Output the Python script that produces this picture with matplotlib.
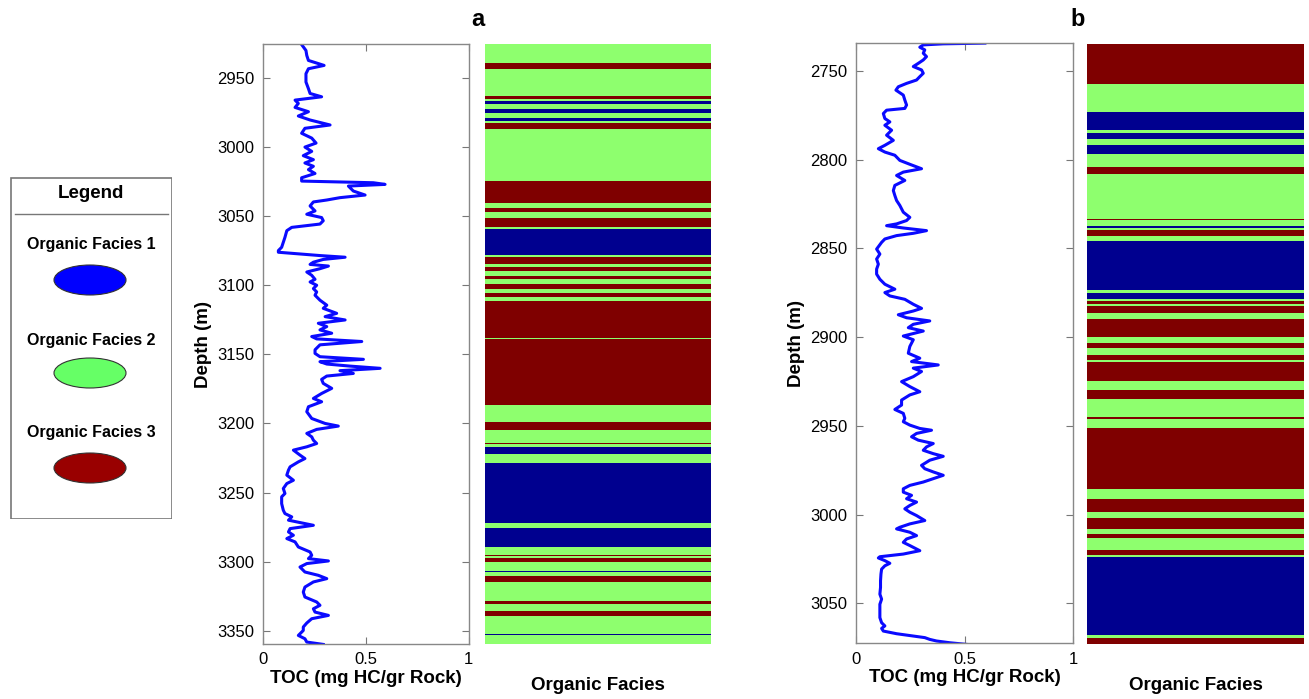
import numpy as np
import matplotlib
matplotlib.use("Agg")
import matplotlib.pyplot as plt
from matplotlib.patches import Ellipse, Rectangle

plt.rcParams['font.family'] = ['Liberation Sans', 'DejaVu Sans']

# ---- well a : TOC log ----
depth_a = [2925.8, 2930.1, 2933.7, 2937.3, 2940.9, 2943.3, 2946.9, 2952.9, 2957.7, 2961.2,
           2963.6, 2966.0, 2968.4, 2971.3, 2974.4, 2977.5, 2980.4, 2984.0, 2986.4, 2990.0,
           2993.5, 2997.1, 3000.0, 3003.1, 3006.2, 3009.1, 3011.5, 3013.9, 3016.3, 3019.1,
           3022.2, 3024.6, 3025.8, 3027.0, 3028.2, 3031.8, 3034.7, 3036.6, 3038.3, 3039.7,
           3042.6, 3046.2, 3048.6, 3051.0, 3053.3, 3055.7, 3058.1, 3060.5, 3065.3, 3068.9,
           3072.5, 3074.9, 3076.1, 3078.5, 3079.7, 3081.3, 3083.3, 3084.9, 3086.1, 3088.0,
           3090.4, 3092.8, 3095.7, 3097.6, 3100.0, 3102.4, 3104.8, 3107.2, 3110.8, 3114.4,
           3116.7, 3120.3, 3122.7, 3125.1, 3127.5, 3129.9, 3132.3, 3134.7, 3137.1, 3138.8,
           3140.7, 3143.1, 3146.7, 3149.3, 3151.7, 3153.6, 3155.3, 3157.0, 3158.5, 3160.1,
           3161.8, 3163.8, 3165.7, 3168.1, 3171.0, 3174.6, 3178.3, 3181.9, 3184.3, 3187.9,
           3191.5, 3196.4, 3200.0, 3201.9, 3204.3, 3207.2, 3209.7, 3212.1, 3214.5, 3216.9,
           3219.3, 3222.9, 3225.4, 3227.8, 3231.4, 3233.8, 3237.4, 3241.1, 3243.5, 3247.1,
           3250.7, 3253.1, 3258.0, 3262.8, 3265.2, 3267.6, 3270.0, 3273.7, 3276.1, 3278.5,
           3280.9, 3283.3, 3285.7, 3289.4, 3293.0, 3295.4, 3297.8, 3299.5, 3301.4, 3303.9,
           3307.5, 3309.9, 3312.3, 3314.7, 3318.4, 3322.0, 3325.6, 3329.2, 3331.6, 3334.1,
           3336.5, 3338.9, 3341.3, 3344.4, 3347.3, 3349.8, 3353.4, 3355.8, 3358.2, 3359.9]
toc_a = [0.189, 0.210, 0.214, 0.222, 0.298, 0.222, 0.210, 0.210, 0.222, 0.230,
         0.286, 0.157, 0.173, 0.157, 0.222, 0.173, 0.230, 0.327, 0.205, 0.189,
         0.238, 0.259, 0.205, 0.238, 0.197, 0.246, 0.205, 0.246, 0.222, 0.254,
         0.189, 0.189, 0.537, 0.594, 0.416, 0.440, 0.497, 0.375, 0.311, 0.246,
         0.230, 0.254, 0.214, 0.286, 0.294, 0.278, 0.141, 0.117, 0.108, 0.100,
         0.092, 0.076, 0.076, 0.278, 0.400, 0.294, 0.246, 0.230, 0.319, 0.278,
         0.214, 0.238, 0.254, 0.230, 0.262, 0.246, 0.262, 0.254, 0.278, 0.311,
         0.294, 0.359, 0.303, 0.400, 0.270, 0.311, 0.278, 0.335, 0.238, 0.262,
         0.481, 0.278, 0.254, 0.254, 0.278, 0.489, 0.278, 0.311, 0.424, 0.570,
         0.375, 0.440, 0.311, 0.286, 0.294, 0.335, 0.286, 0.246, 0.286, 0.222,
         0.214, 0.238, 0.303, 0.367, 0.262, 0.214, 0.238, 0.246, 0.262, 0.214,
         0.149, 0.181, 0.205, 0.173, 0.133, 0.125, 0.117, 0.149, 0.117, 0.100,
         0.108, 0.092, 0.092, 0.100, 0.108, 0.141, 0.125, 0.246, 0.133, 0.125,
         0.149, 0.117, 0.157, 0.173, 0.230, 0.238, 0.222, 0.319, 0.214, 0.181,
         0.205, 0.270, 0.311, 0.246, 0.205, 0.197, 0.205, 0.262, 0.278, 0.246,
         0.254, 0.319, 0.238, 0.214, 0.197, 0.197, 0.173, 0.205, 0.214, 0.294]

# ---- well a : facies intervals (top depth, facies code) ----
facies_top_a = [2925.4, 2938.9, 2943.7, 2963.2, 2965.4, 2967.0, 2969.0, 2972.1, 2975.0, 2979.3,
                2981.0, 2982.5, 2986.8, 3024.5, 3040.6, 3044.2, 3046.7, 3051.0, 3057.9, 3059.2,
                3078.4, 3079.6, 3084.6, 3086.8, 3090.0, 3093.6, 3095.5, 3099.1, 3102.7, 3105.6,
                3108.7, 3111.1, 3138.0, 3138.7, 3150.1, 3150.7, 3186.7, 3198.6, 3204.7, 3214.3,
                3215.2, 3216.7, 3222.2, 3228.9, 3272.2, 3275.8, 3289.5, 3295.1, 3295.8, 3297.3,
                3300.4, 3306.6, 3307.4, 3310.5, 3314.8, 3328.8, 3331.0, 3336.0, 3339.6, 3352.3,
                3353.3]
facies_a = [2, 3, 2, 3, 2, 1, 2, 1, 2, 1,
            2, 3, 2, 3, 2, 3, 2, 3, 2, 1,
            2, 3, 2, 3, 2, 3, 2, 3, 2, 3,
            2, 3, 2, 3, 2, 3, 2, 3, 2, 3,
            2, 1, 2, 1, 2, 1, 2, 3, 2, 3,
            2, 1, 2, 3, 2, 3, 2, 3, 2, 1,
            2]
facies_base_a = 3359.6

# ---- well b : TOC log ----
depth_b = [2734.3, 2734.7, 2735.3, 2736.6, 2738.1, 2740.0, 2741.9, 2743.8, 2745.7, 2747.5,
           2749.4, 2751.3, 2753.2, 2755.1, 2757.0, 2758.9, 2760.8, 2763.6, 2766.4, 2769.2,
           2771.1, 2772.1, 2774.0, 2776.8, 2778.7, 2780.6, 2783.4, 2786.2, 2789.1, 2791.9,
           2793.8, 2795.7, 2797.5, 2800.4, 2802.6, 2805.1, 2807.0, 2808.9, 2811.7, 2814.5,
           2817.4, 2820.2, 2823.0, 2825.8, 2829.6, 2832.5, 2834.3, 2836.2, 2837.2, 2838.5,
           2840.0, 2841.5, 2842.8, 2844.7, 2846.6, 2850.4, 2853.2, 2856.0, 2858.9, 2861.7,
           2864.5, 2867.4, 2870.2, 2873.0, 2874.9, 2876.8, 2878.7, 2881.5, 2883.8, 2885.3,
           2887.4, 2889.1, 2890.9, 2892.8, 2894.7, 2896.6, 2899.4, 2901.5, 2905.3, 2909.1,
           2911.9, 2913.8, 2915.7, 2917.5, 2919.4, 2922.3, 2925.1, 2927.9, 2930.8, 2932.6,
           2935.5, 2938.3, 2940.8, 2943.0, 2945.8, 2947.7, 2949.6, 2951.5, 2952.5, 2954.3,
           2956.2, 2958.1, 2960.0, 2961.9, 2963.8, 2965.7, 2967.2, 2969.4, 2972.3, 2974.2,
           2976.0, 2977.9, 2979.8, 2981.7, 2983.6, 2985.5, 2987.4, 2989.2, 2991.1, 2993.0,
           2994.9, 2996.8, 2998.7, 3000.6, 3003.4, 3005.3, 3007.2, 3008.1, 3010.0, 3011.9,
           3013.8, 3015.7, 3017.5, 3020.4, 3022.3, 3023.8, 3024.5, 3026.0, 3027.5, 3028.9,
           3030.8, 3033.6, 3037.4, 3041.1, 3044.9, 3047.7, 3050.6, 3054.3, 3058.1, 3061.0,
           3062.8, 3064.2, 3065.7, 3067.2, 3068.5, 3069.4, 3070.4, 3071.3, 3072.3, 3073.2]
toc_b = [0.594, 0.402, 0.310, 0.294, 0.317, 0.310, 0.325, 0.310, 0.287, 0.264,
         0.302, 0.310, 0.294, 0.279, 0.233, 0.195, 0.184, 0.218, 0.225, 0.233,
         0.225, 0.141, 0.126, 0.133, 0.156, 0.133, 0.164, 0.141, 0.172, 0.133,
         0.103, 0.133, 0.179, 0.202, 0.248, 0.302, 0.218, 0.187, 0.225, 0.179,
         0.172, 0.179, 0.187, 0.202, 0.218, 0.248, 0.233, 0.187, 0.141, 0.218,
         0.325, 0.264, 0.187, 0.133, 0.118, 0.095, 0.110, 0.095, 0.103, 0.095,
         0.095, 0.110, 0.133, 0.179, 0.133, 0.156, 0.225, 0.264, 0.302, 0.264,
         0.195, 0.233, 0.340, 0.264, 0.241, 0.310, 0.218, 0.264, 0.248, 0.241,
         0.294, 0.256, 0.379, 0.264, 0.302, 0.264, 0.210, 0.248, 0.294, 0.248,
         0.210, 0.210, 0.179, 0.218, 0.225, 0.218, 0.248, 0.294, 0.348, 0.279,
         0.256, 0.287, 0.356, 0.325, 0.310, 0.356, 0.402, 0.340, 0.302, 0.317,
         0.356, 0.402, 0.356, 0.310, 0.248, 0.218, 0.218, 0.256, 0.233, 0.279,
         0.248, 0.225, 0.248, 0.279, 0.317, 0.248, 0.202, 0.187, 0.248, 0.279,
         0.233, 0.218, 0.248, 0.294, 0.218, 0.110, 0.103, 0.133, 0.156, 0.133,
         0.118, 0.115, 0.113, 0.113, 0.110, 0.118, 0.110, 0.110, 0.110, 0.118,
         0.133, 0.118, 0.126, 0.187, 0.264, 0.317, 0.340, 0.371, 0.433, 0.509]

# ---- well b : facies intervals ----
facies_top_b = [2734.4, 2756.9, 2773.0, 2782.9, 2784.3, 2788.0, 2791.4, 2796.5, 2803.7, 2807.5,
                2832.9, 2833.8, 2837.0, 2838.0, 2839.3, 2842.7, 2845.5, 2872.8, 2875.0, 2878.1,
                2879.4, 2881.2, 2882.2, 2886.3, 2889.4, 2899.7, 2902.9, 2905.8, 2909.5, 2912.7,
                2913.8, 2924.2, 2929.3, 2934.4, 2944.9, 2945.6, 2950.6, 2985.4, 2990.8, 2998.0,
                3001.8, 3007.5, 3010.8, 3013.1, 3019.7, 3022.5, 3023.4, 3067.7, 3069.0]
facies_b = [3, 2, 1, 2, 1, 2, 1, 2, 3, 2,
            3, 2, 1, 2, 3, 2, 1, 2, 1, 2,
            3, 2, 3, 2, 3, 2, 3, 2, 3, 2,
            3, 2, 3, 2, 3, 2, 3, 2, 3, 2,
            3, 2, 3, 2, 3, 2, 1, 2, 3]
facies_base_b = 3072.6

facies_colors = {1: '#00008f', 2: '#8eff6e', 3: '#7f0000'}
legend_colors = {1: '#0000ff', 2: '#66ff66', 3: '#990000'}

W, H = 1309, 699
fig = plt.figure(figsize=(W / 100, H / 100), dpi=100)


def box(left, top, right, bottom):
    return [left / W, 1 - bottom / H, (right - left) / W, (bottom - top) / H]


def toc_track(rect, depth, toc, ylim, yticks):
    ax = fig.add_axes(rect)
    ax.plot(toc, depth, color='#0a0aff', lw=2.2)
    ax.set_xlim(0, 1)
    ax.set_ylim(ylim[1], ylim[0])
    ax.set_xticks([0, 0.5, 1])
    ax.set_xticklabels(['0', '0.5', '1'])
    ax.set_yticks(yticks)
    ax.tick_params(direction='in', top=True, right=True, length=5, width=0.8,
                   color='#777777', labelsize=12, pad=6)
    for s in ax.spines.values():
        s.set_color('#888888')
        s.set_linewidth(1.0)
    ax.set_xlabel('TOC (mg HC/gr Rock)', fontsize=13.5, fontweight='bold', labelpad=2)
    ax.set_ylabel('Depth (m)', fontsize=13.5, fontweight='bold', labelpad=4)
    return ax


def facies_track(rect, tops, codes, base, ylim):
    ax = fig.add_axes(rect)
    bounds = list(tops) + [base]
    heights = np.diff(bounds)
    ax.barh(tops, [1] * len(tops), height=heights, left=0, align='edge',
            color=[facies_colors[c] for c in codes], edgecolor='none')
    ax.set_xlim(0, 1)
    ax.set_ylim(ylim[1], ylim[0])
    ax.set_xticks([])
    ax.set_yticks([])
    for s in ax.spines.values():
        s.set_visible(False)
    ax.set_xlabel('Organic Facies', fontsize=13.5, fontweight='bold', labelpad=24)
    return ax


# panel a
toc_track(box(262.7, 44, 468.7, 644), depth_a, toc_a, (2925.4, 3359.6),
          [2950, 3000, 3050, 3100, 3150, 3200, 3250, 3300, 3350])
facies_track(box(485, 44, 710.7, 644), facies_top_a, facies_a, facies_base_a,
             (2925.4, 3359.6))

# panel b
toc_track(box(856, 43.3, 1073, 643.3), depth_b, toc_b, (2734.4, 3072.6),
          [2750, 2800, 2850, 2900, 2950, 3000, 3050])
facies_track(box(1086.7, 44, 1304.3, 644), facies_top_b, facies_b, facies_base_b,
             (2734.4, 3072.6))

fig.text(478 / W, 1 - 20 / H, 'a', fontsize=17, fontweight='bold', ha='center', va='center')
fig.text(1078 / W, 1 - 20 / H, 'b', fontsize=17, fontweight='bold', ha='center', va='center')

# legend panel, drawn in pixel units
lg = fig.add_axes(box(10, 177, 172, 519))
lg.set_xlim(0, 162)
lg.set_ylim(342, 0)
lg.axis('off')
lg.add_patch(Rectangle((0.5, 0.5), 161, 341, fill=False, edgecolor='#777777', lw=1.2))
lg.text(81, 16, 'Legend', fontsize=13.5, fontweight='bold', ha='center', va='center')
lg.plot([5, 158], [37, 37], color='#777777', lw=1)
rows = [(1, 68, 103), (2, 163, 196), (3, 255, 291)]
for code, ty, ey in rows:
    lg.text(81, ty, 'Organic Facies %d' % code, fontsize=11.5, fontweight='bold',
            ha='center', va='center')
    lg.add_patch(Ellipse((80, ey), 72, 30, facecolor=legend_colors[code],
                         edgecolor='#333333', lw=0.8))

fig.savefig('out.png', dpi=100, facecolor='white')
